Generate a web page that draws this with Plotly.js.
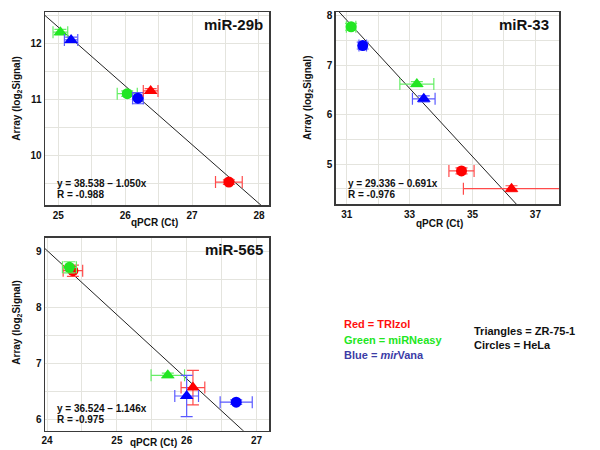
<!DOCTYPE html>
<html>
<head>
<meta charset="utf-8">
<script src="https://cdn.plot.ly/plotly-3.0.1.min.js"></script>
<style>html,body{margin:0;padding:0;background:#fff}#chart{width:600px;height:450px}</style>
</head>
<body>
<div id="chart"></div>
<script>
// Order in each array: [TRIzol (red), miRNeasy (green), mirVana (blue)]
const methods = ['TRIzol', 'miRNeasy', 'mirVana'];

// miR-29b
const m29_tri_x = [26.38, 25.03, 25.19];
const m29_tri_y = [11.15, 12.20, 12.06];
const m29_tri_ex = [0.11, 0.11, 0.10];
const m29_tri_ey = [0.04, 0.05, 0.05];
const m29_cir_x = [27.55, 26.03, 26.19];
const m29_cir_y = [9.52, 11.10, 11.02];
const m29_cir_ex = [0.20, 0.15, 0.08];
const m29_cir_ey = [0.04, 0.05, 0.10];
const m29_fit = [38.538, -1.050];
const m29_R = '-0.988';

// miR-33
const m33_tri_x = [36.24, 33.23, 33.45];
const m33_tri_y = [4.50, 6.62, 6.32];
const m33_tri_ex = [1.53, 0.54, 0.36];
const m33_tri_ey = [0.06, 0.05, 0.06];
const m33_cir_x = [34.65, 31.14, 31.51];
const m33_cir_y = [4.86, 7.78, 7.40];
const m33_cir_ex = [0.40, 0.15, 0.12];
const m33_cir_ey = [0.06, 0.07, 0.07];
const m33_fit = [29.336, -0.691];
const m33_R = '-0.976';

// miR-565
const m565_tri_x = [26.09, 25.73, 26.00];
const m565_tri_y = [6.57, 6.79, 6.42];
const m565_tri_ex = [0.17, 0.24, 0.17];
const m565_tri_ey = [0.31, 0.04, 0.37];
const m565_cir_x = [24.37, 24.32, 26.71];
const m565_cir_y = [8.66, 8.72, 6.31];
const m565_cir_ex = [0.14, 0.10, 0.23];
const m565_cir_ey = [0.10, 0.10, 0.04];
const m565_fit = [36.524, -1.146];
const m565_R = '-0.975';

const markerColors = ['#ff0000', '#22e622', '#0000ff'];
const errColors = ['#ff4a4a', '#66ee66', '#5a5aff'];
const FONT = 'Liberation Sans, Arial, sans-serif';

const panels = [
  {name: 'miR-29b', tx: m29_tri_x, ty: m29_tri_y, tex: m29_tri_ex, tey: m29_tri_ey,
   cx: m29_cir_x, cy: m29_cir_y, cex: m29_cir_ex, cey: m29_cir_ey, fit: m29_fit, R: m29_R,
   xa: 'x', ya: 'y', xr: [24.80, 28.15], yr: [9.11, 12.56]},
  {name: 'miR-33', tx: m33_tri_x, ty: m33_tri_y, tex: m33_tri_ex, tey: m33_tri_ey,
   cx: m33_cir_x, cy: m33_cir_y, cex: m33_cir_ex, cey: m33_cir_ey, fit: m33_fit, R: m33_R,
   xa: 'x2', ya: 'y2', xr: [30.65, 37.75], yr: [4.19, 8.08]},
  {name: 'miR-565', tx: m565_tri_x, ty: m565_tri_y, tex: m565_tri_ex, tey: m565_tri_ey,
   cx: m565_cir_x, cy: m565_cir_y, cex: m565_cir_ex, cey: m565_cir_ey, fit: m565_fit, R: m565_R,
   xa: 'x3', ya: 'y3', xr: [23.97, 27.18], yr: [5.80, 9.25]}
];

const traces = [];
panels.forEach(p => {
  // regression line
  const lx = [p.xr[0], p.xr[1]];
  traces.push({
    x: lx, y: lx.map(v => p.fit[0] + p.fit[1] * v),
    xaxis: p.xa, yaxis: p.ya, mode: 'lines', type: 'scatter',
    line: {color: '#222', width: 1}, hoverinfo: 'skip'
  });
  [['cx','cy','cex','cey','circle'], ['tx','ty','tex','tey','triangle-up']].forEach(s => {
    [0, 1, 2].forEach(i => {
      traces.push({
        x: [p[s[0]][i]], y: [p[s[1]][i]], xaxis: p.xa, yaxis: p.ya,
        type: 'scatter', mode: 'markers', name: methods[i],
        marker: {symbol: s[4], size: s[4] === 'circle' ? 11 : 12, color: markerColors[i], line: {width: 0}},
        error_x: {type: 'data', array: [p[s[2]][i]], color: errColors[i], thickness: 1.2, width: 6},
        error_y: {type: 'data', array: [p[s[3]][i]], color: errColors[i], thickness: 1.2, width: 6},
        cliponaxis: true
      });
    });
  });
});

function axis(range, dtick, tick0, minor, domain, anchor) {
  return {
    range: range, dtick: dtick, tick0: tick0, domain: domain, anchor: anchor,
    showline: true, mirror: true, linecolor: '#3a3a3a', linewidth: 1.5,
    showgrid: true, gridcolor: '#e4e4de', gridwidth: 1, zeroline: false,
    minor: {dtick: minor, showgrid: true, gridcolor: '#e4e4de', gridwidth: 1},
    ticks: '', tickfont: {family: FONT, size: 10, color: '#111', weight: 'bold'},
    fixedrange: true
  };
}

const layout = {
  width: 600, height: 450, margin: {l: 0, r: 0, t: 0, b: 0},
  paper_bgcolor: '#fff', plot_bgcolor: '#fff', showlegend: false,
  xaxis: axis([24.80, 28.15], 1, 25, 0.5, [45/600, 269/600], 'y'),
  yaxis: axis([9.11, 12.56], 1, 10, 0.5, [1 - 205/450, 1 - 12/450], 'x'),
  xaxis2: axis([30.65, 37.75], 2, 31, 1, [335.7/600, 559/600], 'y2'),
  yaxis2: axis([4.19, 8.08], 1, 5, 0.5, [1 - 204/450, 1 - 12/450], 'x2'),
  xaxis3: axis([23.97, 27.18], 1, 24, 0.5, [45/600, 269/600], 'y3'),
  yaxis3: axis([5.80, 9.25], 1, 6, 0.5, [1 - 430.7/450, 1 - 237.7/450], 'x3'),
  annotations: []
};

function ann(text, px, py, opts) {
  return Object.assign({
    text: text, xref: 'paper', yref: 'paper', x: px / 600, y: 1 - py / 450,
    showarrow: false, xanchor: 'left', yanchor: 'middle',
    font: {family: FONT, size: 10, color: '#111', weight: 'bold'}
  }, opts || {});
}

const titlePos = [[265, 24], [551, 24], [265, 249]];
const eqPos = [[55, 183], [346, 183], [55, 408]];
const yTitlePos = [[16.7, 99], [308, 98], [16.7, 323]];
const xTitlePos = [[154, 222.5], [440, 223], [153, 442]];

panels.forEach((p, k) => {
  layout.annotations.push(ann(p.name, titlePos[k][0], titlePos[k][1],
    {xanchor: 'right', font: {family: FONT, size: 15, color: '#111', weight: 'bold'}}));
  const a = p.fit[0].toFixed(3), b = Math.abs(p.fit[1]).toFixed(3);
  layout.annotations.push(ann('y = ' + a + ' \u2013 ' + b + 'x', eqPos[k][0], eqPos[k][1]));
  layout.annotations.push(ann('R = ' + p.R, eqPos[k][0], eqPos[k][1] + 11.5));
  layout.annotations.push(ann('Array (log<sub>2</sub>Signal)', yTitlePos[k][0], yTitlePos[k][1],
    {xanchor: 'center', textangle: -90}));
  layout.annotations.push(ann('qPCR (Ct)', xTitlePos[k][0], xTitlePos[k][1], {xanchor: 'center'}));
});

const legendLeft = [
  ['Red = TRIzol', '#ff1010', 324.3],
  ['Green = miRNeasy', '#22e622', 340],
  ['Blue = <i>mir</i>Vana', '#3c3ca6', 355]
];
legendLeft.forEach(l => layout.annotations.push(ann(l[0], 341.7, l[2],
  {font: {family: FONT, size: 11, color: l[1], weight: 'bold'}})));
const legendRight = [['Triangles = ZR-75-1', 331], ['Circles = HeLa', 344.5]];
legendRight.forEach(l => layout.annotations.push(ann(l[0], 471.7, l[1],
  {font: {family: FONT, size: 11, color: '#111', weight: 'bold'}})));

Plotly.newPlot('chart', traces, layout, {staticPlot: true, displayModeBar: false});
</script>
</body>
</html>
